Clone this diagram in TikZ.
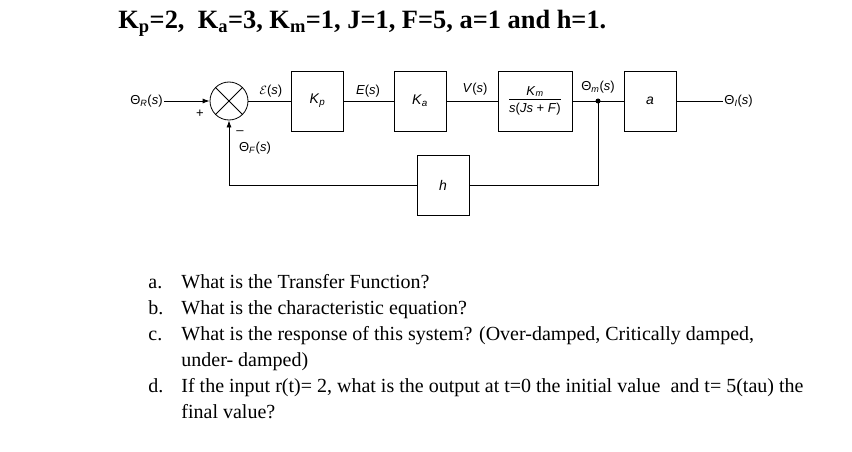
\documentclass[tikz,border=0pt]{standalone}
\usepackage{fontspec}
\setmainfont{Liberation Serif}
\newfontfamily\blkfont{Liberation Sans}
\usetikzlibrary{arrows.meta,positioning}

\tikzset{
  blk/.style={draw, minimum width=52pt, minimum height=60pt, inner sep=2pt,
    font=\blkfont\fontsize{14}{16}\selectfont},
  sig/.style={font=\blkfont\fontsize{13}{15}\selectfont, inner sep=1pt},
  qtext/.style={anchor=base west, inner sep=0pt, font=\fontsize{20}{24}\selectfont},
  >={Latex[length=7pt,width=5pt]},
}

\begin{document}
\begin{tikzpicture}[x=1pt,y=-1pt,line width=0.8pt]
\useasboundingbox (0,0) rectangle (852,452);
% given values
\node[anchor=base west, inner sep=0pt, font=\bfseries\fontsize{26.4}{30}\selectfont] (title) at (118,29)
  {K\textsubscript{p}=2,\ \ K\textsubscript{a}=3, K\textsubscript{m}=1, J=1, F=5, a=1 and h=1.};

% forward path
\node[draw, circle, minimum size=38pt, inner sep=0pt] (sum) at (229,101) {};
\draw (sum.north west) -- (sum.south east) (sum.north east) -- (sum.south west);
\node[blk] (kp) at (317.5,101) {\textit{K}\textsubscript{\textit{p}}};
\node[blk] (ka) at (420,101) {\textit{K}\textsubscript{\textit{a}}};
\node[blk, minimum width=74pt, font=\blkfont\fontsize{13}{15}\selectfont] (km) at (535,101)
  {\begin{tabular}{@{}c@{}}\textit{K}\textsubscript{\textit{m}}\\[-1pt]\hline
   \rule{0pt}{14pt}\textit{s}(\textit{Js} + \textit{F})\end{tabular}};
\node[blk] (ablk) at (650,101) {\textit{a}};
\coordinate (dot) at (598,101);
\node[sig, anchor=east] (in) at (164,101) {Θ\textsubscript{\textit{R}}(\textit{s})};
\node[sig, anchor=west] (out) at (723,101) {Θ\textsubscript{\textit{I}}(\textit{s})};

\draw[->] (in) -- (sum);
\draw (sum) -- (kp);
\draw (kp) -- (ka);
\draw (ka) -- (km);
\draw (km) -- (ablk);
\draw (ablk) -- (out);
\fill (dot) circle (2.5pt);

% feedback path
\node[blk] (hblk) at (443,185) {\textit{h}};
\draw (dot) |- (hblk);
\draw[->] (hblk) -| (sum);

% signal names
\node[sig] (err) at (271,91) {\(\mathcal{E}\)(\textit{s})};
\node[sig] (es) at (368,91) {\textit{E}(\textit{s})};
\node[sig] (vs) at (475,89) {\textit{V}(\textit{s})};
\node[sig] (thm) at (598,87) {Θ\textsubscript{\textit{m}}(\textit{s})};
\node[sig] (thf) at (255,148) {Θ\textsubscript{\textit{F}}(\textit{s})};
\node[sig] (plus) at (200,114) {+};
\node[sig] (minus) at (240,133) {\textendash};

% questions
\node[qtext] (qa) at (148,288) {a.};
\node[qtext] (ta) at (181,288) {What is the Transfer Function?};
\node[qtext] (qb) at (148,314) {b.};
\node[qtext] (tb) at (181,314) {What is the characteristic equation?};
\node[qtext] (qc) at (148,340) {c.};
\node[qtext] (tc) at (181,340) {What is the response of this system? (Over-damped, Critically damped,};
\node[qtext] (tc2) at (181,366) {under- damped)};
\node[qtext] (qd) at (148,392) {d.};
\node[qtext] (td) at (181,392) {If the input r(t)= 2, what is the output at t=0 the initial value\ \ and t= 5(tau) the};
\node[qtext] (td2) at (181,418) {final value?};
\end{tikzpicture}
\end{document}
